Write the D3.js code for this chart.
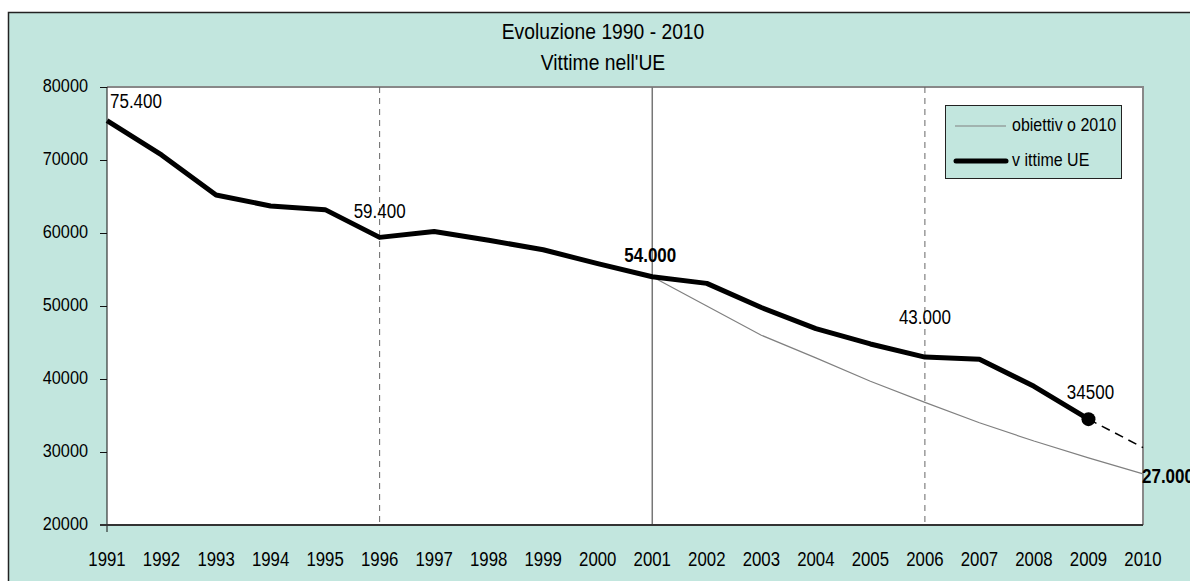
<!DOCTYPE html>
<html>
<head>
<meta charset="utf-8">
<script src="https://cdn.jsdelivr.net/npm/d3@7"></script>
<style>
  body { margin: 0; background: #fff; }
  text { font-family: "Liberation Sans", Arial, sans-serif; fill: #000; }
</style>
</head>
<body>
<script>
// data
const years = [1991, 1992, 1993, 1994, 1995, 1996, 1997, 1998, 1999, 2000,
               2001, 2002, 2003, 2004, 2005, 2006, 2007, 2008, 2009, 2010];
const yTicks = [20000, 30000, 40000, 50000, 60000, 70000, 80000];

const vittimeYears = years.slice(0, 19);
const vittime = [75400, 70700, 65200, 63700, 63200, 59400, 60200, 59000, 57700, 55800,
                 54000, 53100, 49800, 46900, 44800, 43000, 42700, 39000, 34500];

const obiettivoYears = years.slice(10);
const obiettivo = [54000, 50000, 46000, 42900, 39700, 36800, 34000, 31500, 29200, 27000];

const proiezioneYears = [2009, 2010];
const proiezione = [34500, 30600];

const refYears = [1996, 2001, 2006];

const labels = [
  {year: 1991, value: 75400, text: "75.400", anchor: "start", dx: 3, dy: -13, bold: false},
  {year: 1996, value: 59400, text: "59.400", anchor: "middle", dx: 0, dy: -19, bold: false},
  {year: 2001, value: 54000, text: "54.000", anchor: "middle", dx: -2, dy: -15, bold: true},
  {year: 2006, value: 43000, text: "43.000", anchor: "middle", dx: 0, dy: -33, bold: false},
  {year: 2009, value: 34500, text: "34500", anchor: "middle", dx: 2, dy: -20, bold: false},
  {year: 2010, value: 27000, text: "27.000", anchor: "start", dx: -1, dy: 9, bold: true}
];

const width = 1190;
const height = 581;
const bg = "#c2e6de";

const svg = d3.select('body').append('svg').attr('width', width).attr('height', height);

// outer frame
svg.append('rect').attr('x', 8.5).attr('y', 12.5).attr('width', width).attr('height', height)
  .attr('fill', bg).attr('stroke', '#222').attr('stroke-width', 1.5);

const x = d3.scaleLinear().domain([1991, 2010]).range([107, 1143]);
const y = d3.scaleLinear().domain([20000, 80000]).range([525, 87]);

// text slightly stretched vertically like the original
function label(g, px, py, str, size, anchor, bold) {
  return g.append('text')
    .attr('transform', `translate(${px},${py}) scale(1,1.15)`)
    .attr('text-anchor', anchor)
    .style('font-size', size + 'px')
    .style('font-weight', bold ? 'bold' : 'normal')
    .text(str);
}

// plot area
svg.append('rect').attr('x', x(1991)).attr('y', y(80000))
  .attr('width', x(2010) - x(1991)).attr('height', y(20000) - y(80000))
  .attr('fill', '#fff');
svg.append('path')
  .attr('d', `M${x(1991)},${y(80000)}H${x(2010)}V${y(20000)}`)
  .attr('fill', 'none').attr('stroke', '#888').attr('stroke-width', 2);

// reference lines
const g = svg.append('g');
g.selectAll('line.ref').data(refYears).enter().append('line')
  .attr('class', 'ref')
  .attr('x1', d => x(d)).attr('x2', d => x(d))
  .attr('y1', y(80000)).attr('y2', y(20000))
  .attr('stroke', d => d === 2001 ? '#777' : '#666')
  .attr('stroke-width', d => d === 2001 ? 1.5 : 1)
  .attr('stroke-dasharray', d => d === 2001 ? null : '6,5');

// axes
const yAxis = svg.append('g').attr('transform', `translate(${x(1991)},0)`)
  .call(d3.axisLeft(y).tickValues(yTicks).tickSize(7).tickFormat(d => d));
yAxis.select('.domain').attr('d', `M0,${y(80000)}V${y(20000) + 7}`).attr('stroke', '#111');
yAxis.selectAll('.tick line').attr('stroke', '#111');
yAxis.selectAll('.tick text').remove();
yTicks.forEach(t => label(svg, 88, y(t) + 5, String(t), 16.3, 'end', false));

svg.append('line')
  .attr('x1', x(1991) - 7).attr('x2', x(2010))
  .attr('y1', y(20000)).attr('y2', y(20000))
  .attr('stroke', '#333').attr('stroke-width', 2);
years.forEach(yr => label(svg, x(yr), 566, String(yr), 16.8, 'middle', false));

// series
const line = d3.line().x(d => x(d[0])).y(d => y(d[1]));

g.append('path')
  .datum(d3.zip(obiettivoYears, obiettivo))
  .attr('d', line).attr('fill', 'none').attr('stroke', '#808080').attr('stroke-width', 1.2);

g.append('path')
  .datum(d3.zip(proiezioneYears, proiezione))
  .attr('d', line).attr('fill', 'none').attr('stroke', '#000').attr('stroke-width', 1.5)
  .attr('stroke-dasharray', '9,6');

g.append('path')
  .datum(d3.zip(vittimeYears, vittime))
  .attr('d', line).attr('fill', 'none').attr('stroke', '#000').attr('stroke-width', 5)
  .attr('stroke-linejoin', 'round');

g.append('circle')
  .attr('cx', x(2009)).attr('cy', y(34500)).attr('r', 7).attr('fill', '#000');

// data labels
labels.forEach(l => label(svg, x(l.year) + l.dx, y(l.value) + l.dy, l.text, 17, l.anchor, l.bold));

// title
label(svg, 603, 39, "Evoluzione 1990 - 2010", 19.3, 'middle', false);
label(svg, 603, 70, "Vittime nell'UE", 19.3, 'middle', false);

// legend
const leg = svg.append('g');
leg.append('rect').attr('x', 945.5).attr('y', 105.5).attr('width', 176).attr('height', 73)
  .attr('fill', bg).attr('stroke', '#222').attr('stroke-width', 1);
leg.append('line').attr('x1', 955).attr('x2', 1006).attr('y1', 126).attr('y2', 126)
  .attr('stroke', '#808080').attr('stroke-width', 1.2);
leg.append('line').attr('x1', 956).attr('x2', 1006).attr('y1', 161).attr('y2', 161)
  .attr('stroke', '#000').attr('stroke-width', 5).attr('stroke-linecap', 'round');
label(leg, 1012, 131, "obiettiv o 2010", 16, 'start', false);
label(leg, 1012, 166, "v ittime UE", 16, 'start', false);
</script>
</body>
</html>
